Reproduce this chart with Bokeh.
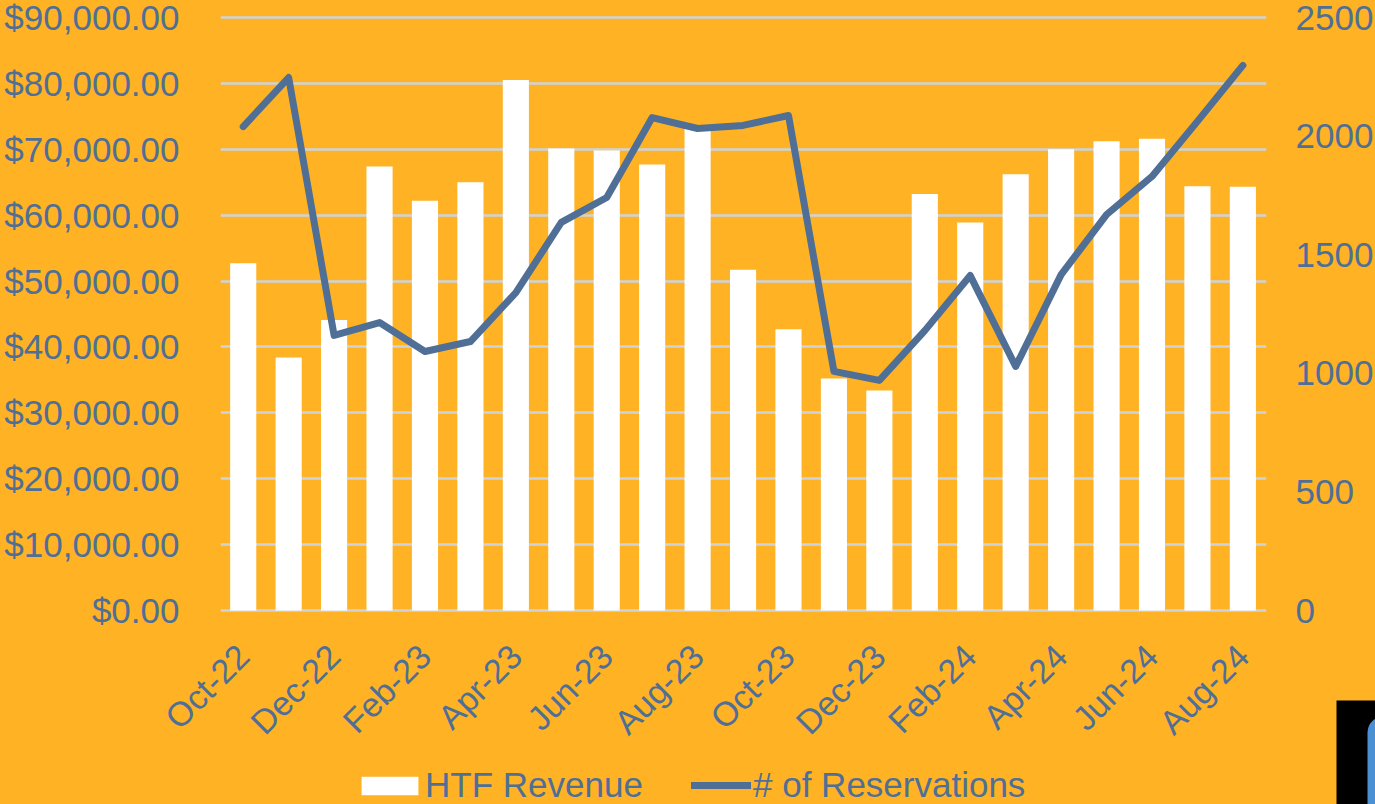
from bokeh.plotting import figure
from bokeh.models import (Range1d, LinearAxis, FixedTicker, Legend, LegendItem, BoxAnnotation,
                          NumeralTickFormatter, ColumnDataSource)
from bokeh.embed import file_html
from bokeh.resources import INLINE
import math

months = ["Oct-22","Nov-22","Dec-22","Jan-23","Feb-23","Mar-23","Apr-23","May-23","Jun-23","Jul-23","Aug-23","Sep-23",
          "Oct-23","Nov-23","Dec-23","Jan-24","Feb-24","Mar-24","Apr-24","May-24","Jun-24","Jul-24","Aug-24"]
revenue = [52700,38400,44100,67400,62200,65000,80500,70100,69800,67700,73300,51700,
           42700,35200,33400,63200,58900,66200,70000,71200,71600,64400,64300]
reservations = [2040,2247,1160,1214,1092,1134,1340,1636,1741,2078,2032,2045,
                2087,1008,970,1180,1412,1029,1416,1669,1830,2062,2298]
left_ticks = list(range(0, 90001, 10000))
right_ticks = list(range(0, 2501, 500))

BG = "#FFB224"
INK = "#4F6F96"
FONT = "Liberation Sans"
SIZE = "35px"
LINE_W = 7

idx = list(range(len(months)))
src = ColumnDataSource(dict(x=idx, revenue=revenue, reservations=reservations))

pad_l = 3 * 90000 / 593
pad_r = 3 * 2500 / 593
OVER = 14  # the canvas starts above the page so the top labels are not pushed down
p = figure(width=1375, height=804 + OVER, output_backend="svg", toolbar_location=None,
           x_range=Range1d(-0.5, 22.52), y_range=Range1d(-pad_l, 90000 + pad_l),
           background_fill_color=None, border_fill_color=BG,
           min_border_left=220, min_border_right=109, min_border_top=14 + OVER, min_border_bottom=191,
           frame_width=1046, frame_height=599,
           outline_line_color=None, x_axis_location="below", y_axis_location="left",
           styles={"position": "absolute", "left": "0px", "top": f"-{OVER}px", "background-color": BG})
p.extra_y_ranges = {"res": Range1d(-pad_r, 2500 + pad_r)}

bars = p.vbar(x="x", top="revenue", width=0.575, source=src, fill_color="white", line_color=None)
line = p.line(x="x", y="reservations", source=src, y_range_name="res", line_color=INK,
              line_width=LINE_W, line_cap="round", line_join="round")

p.xgrid.visible = False
p.ygrid.ticker = FixedTicker(ticks=left_ticks)
p.ygrid.grid_line_color = "#CDD3DA"
p.ygrid.grid_line_width = 2.5
p.ygrid.level = "underlay"

def style(ax):
    ax.axis_line_color = None
    ax.major_tick_line_color = None
    ax.minor_tick_line_color = None
    ax.major_tick_in = 0
    ax.major_tick_out = 0
    ax.minor_tick_in = 0
    ax.minor_tick_out = 0
    ax.major_label_text_color = INK
    ax.major_label_text_font = FONT
    ax.major_label_text_font_size = SIZE

ya = p.yaxis[0]
style(ya)
ya.ticker = FixedTicker(ticks=left_ticks)
ya.formatter = NumeralTickFormatter(format="$0,0.00")
ya.major_label_standoff = 41

ra = LinearAxis(y_range_name="res", ticker=FixedTicker(ticks=right_ticks))
style(ra)
ra.major_label_standoff = 29
p.add_layout(ra, "right")

xa = p.xaxis[0]
style(xa)
xa.major_label_text_font_size = "34px"
xa.ticker = FixedTicker(ticks=idx[::2])
xa.major_label_overrides = {i: months[i] for i in idx[::2]}
xa.major_label_orientation = math.pi / 4
xa.major_label_standoff = 37

# Transparent overlay whose plot area is the whole page: annotations are clipped to the plot area
q = figure(width=1375, height=804, output_backend="svg", toolbar_location=None,
           x_range=Range1d(0, 1375), y_range=Range1d(804, 0),
           x_axis_type=None, y_axis_type=None,
           background_fill_color=None, border_fill_color=None, outline_line_color=None,
           min_border=0, min_border_left=0, min_border_right=0, min_border_top=0, min_border_bottom=0,
           styles={"position": "absolute", "left": "0px", "top": "0px"})
q.xgrid.visible = False
q.ygrid.visible = False
# Legend keys only: their one mark lies outside the overlay's range
key_bar = q.vbar(x=[-900], top=[-900], bottom=[-950], width=1, fill_color="white", line_color=None)
key_line = q.line(x=[-900, -800], y=[-900, -900], line_color=INK, line_width=LINE_W, line_cap="round")

def key(label, renderer, x, glyph_width, glyph_height, standoff):
    q.add_layout(Legend(items=[LegendItem(label=label, renderers=[renderer])],
                        orientation="horizontal", location=(x, -1),
                        background_fill_alpha=0, border_line_color=None,
                        label_text_color=INK, label_text_font=FONT, label_text_font_size=SIZE,
                        glyph_width=glyph_width, glyph_height=glyph_height, padding=0, margin=0,
                        label_standoff=standoff), "center")

key("HTF Revenue", key_bar, 354, 71, 23, 0)
key("# of Reservations", key_line, 691, 60, 18, 2)

q.add_layout(BoxAnnotation(left=1336, right=1375, top=700, bottom=804,
                           fill_color="black", fill_alpha=1, line_color=None))
q.add_layout(BoxAnnotation(left=1367, right=1420, top=716, bottom=860,
                           fill_color="#4A90D2", fill_alpha=1, line_color=None, border_radius=16))

open("out.html", "w").write(file_html([p, q], INLINE))
